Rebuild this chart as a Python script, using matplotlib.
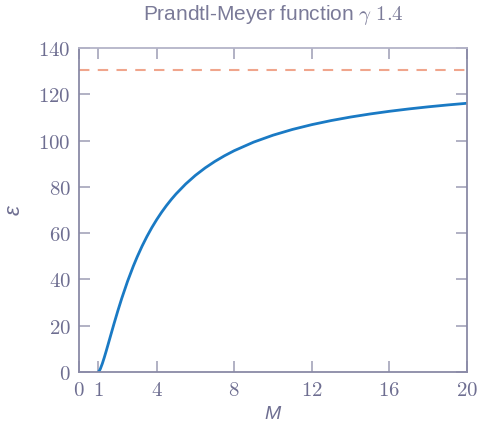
import numpy as np
import matplotlib
matplotlib.use('Agg')
import matplotlib.pyplot as plt

# values
mach = [1.0, 1.05, 1.1, 1.2, 1.3, 1.4, 1.5, 1.6, 1.8, 2.0, 2.2, 2.5, 2.8,
        3.0, 3.25, 3.5, 3.75, 4.0, 4.25, 4.5, 4.75, 5.0, 5.5, 6.0, 6.5, 7.0,
        7.5, 8.0, 9.0, 10.0, 11.0, 12.0, 13.0, 14.0, 15.0, 16.0, 17.0, 18.0,
        19.0, 20.0]
nu = [0.0, 0.49, 1.34, 3.56, 6.17, 8.99, 11.91, 14.86, 20.73, 26.38, 31.73,
      39.12, 45.75, 49.76, 54.36, 58.53, 62.33, 65.78, 68.94, 71.83, 74.48,
      76.92, 81.24, 84.96, 88.17, 90.97, 93.43, 95.62, 99.32, 102.32, 104.80,
      106.88, 108.65, 110.17, 111.49, 112.65, 113.67, 114.58, 115.39, 116.12]
nu_max = 130.45

xticks = [0, 1, 4, 8, 12, 16, 20]
yticks = [0, 20, 40, 60, 80, 100, 120, 140]

text_col = '#6e6e91'
spine_col = '#8a8aa6'
tick_col = '#a4a4ba'

plt.rcParams['mathtext.fontset'] = 'cm'

fig = plt.figure(figsize=(4.79, 4.25), dpi=100)
ax = fig.add_axes([0.165, 0.125, 0.81, 0.762])

ax.axhline(nu_max, color='#f0a58c', linestyle=(0, (5, 4)), linewidth=1.5)
ax.plot(mach, nu, color='#1a7ac4', linewidth=2.0)

ax.set_xlim(0, 20)
ax.set_ylim(0, 140)
ax.set_xticks(xticks)
ax.set_yticks(yticks)
ax.set_xticklabels(['$%d$' % v for v in xticks])
ax.set_yticklabels(['$%d$' % v for v in yticks])

ax.tick_params(direction='in', length=8, width=1.2, colors=tick_col,
               labelcolor=text_col, labelsize=15, top=True, right=True, pad=6)
for s in ax.spines.values():
    s.set_color(spine_col)
    s.set_linewidth(1.3)
ax.spines['top'].set_color('#b4b4c8')

ax.set_title(r'Prandtl-Meyer function $\gamma\ 1.4$', color='#7a7a98',
             fontsize=15, fontfamily='Liberation Sans', pad=20)
ax.set_xlabel('M', color=text_col, fontsize=14, style='italic',
              fontfamily='Liberation Sans', labelpad=4)
ax.set_ylabel('ε', color=text_col, fontsize=16, style='italic',
              fontfamily='Liberation Sans', labelpad=10)

fig.savefig('out.png', dpi=100)
